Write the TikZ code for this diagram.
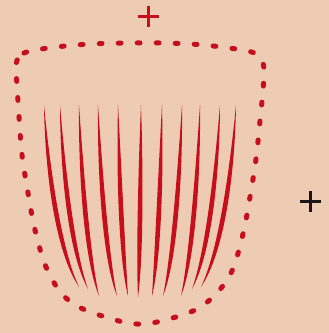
\documentclass[tikz,border=0pt]{standalone}
\usepackage{tikz}

\begin{document}
\begin{tikzpicture}[x=1pt,y=-1pt]
    \definecolor{skin}{HTML}{EDCCB3}
    \definecolor{cutred}{HTML}{C60E1C}
    \definecolor{markblack}{HTML}{1B1515}
    \fill[skin] (0,0) rectangle (329,333);
    \useasboundingbox (0,0) rectangle (329,333);
    \draw[cutred,line width=5pt,line cap=round,dash pattern=on 2.8pt off 16.2pt]
      plot[smooth cycle,tension=0.55] coordinates {
      (16,64) (24,53) (52,47.5) (90,44) (128,43) (166,43) (204,45)
      (242,50) (258,55) (264,68) (263,90) (260,121) (256,159) (250,197)
      (243,234) (232,271) (215,295) (193,311) (157,322) (137,324)
      (119,321) (83,309) (62,294) (46,267) (35,230) (28,193) (22,155)
      (19,117) (17,85)};
    \foreach \xt/\xb/\yb in {
      44/79/287,
      60/88/289,
      79/99/296,
      98/117/296,
      118/128/296,
      141/138/297,
      162/152/296,
      182/163/296,
      200/181/296,
      220/192/289,
      236/201/287} {
      \fill[cutred] (\xt,105)
        .. controls ({\xt+0.1*(\xb-\xt)-2.6},{105+0.35*(\yb-105)})
               and ({\xt+0.4*(\xb-\xt)-3.6},{105+0.8*(\yb-105)}) .. (\xb,\yb)
        .. controls ({\xt+0.4*(\xb-\xt)+3.6},{105+0.8*(\yb-105)})
               and ({\xt+0.1*(\xb-\xt)+2.6},{105+0.35*(\yb-105)}) .. cycle;
    }
    \draw[cutred,line width=3pt] (138,16.3) -- (159,16.3);
    \draw[cutred,line width=3pt] (148.5,6) -- (148.5,27);
    \draw[markblack,line width=3.3pt] (300,201.5) -- (321,201.5);
    \draw[markblack,line width=3.3pt] (310.4,191) -- (310.4,212);
  \end{tikzpicture}
\end{document}
